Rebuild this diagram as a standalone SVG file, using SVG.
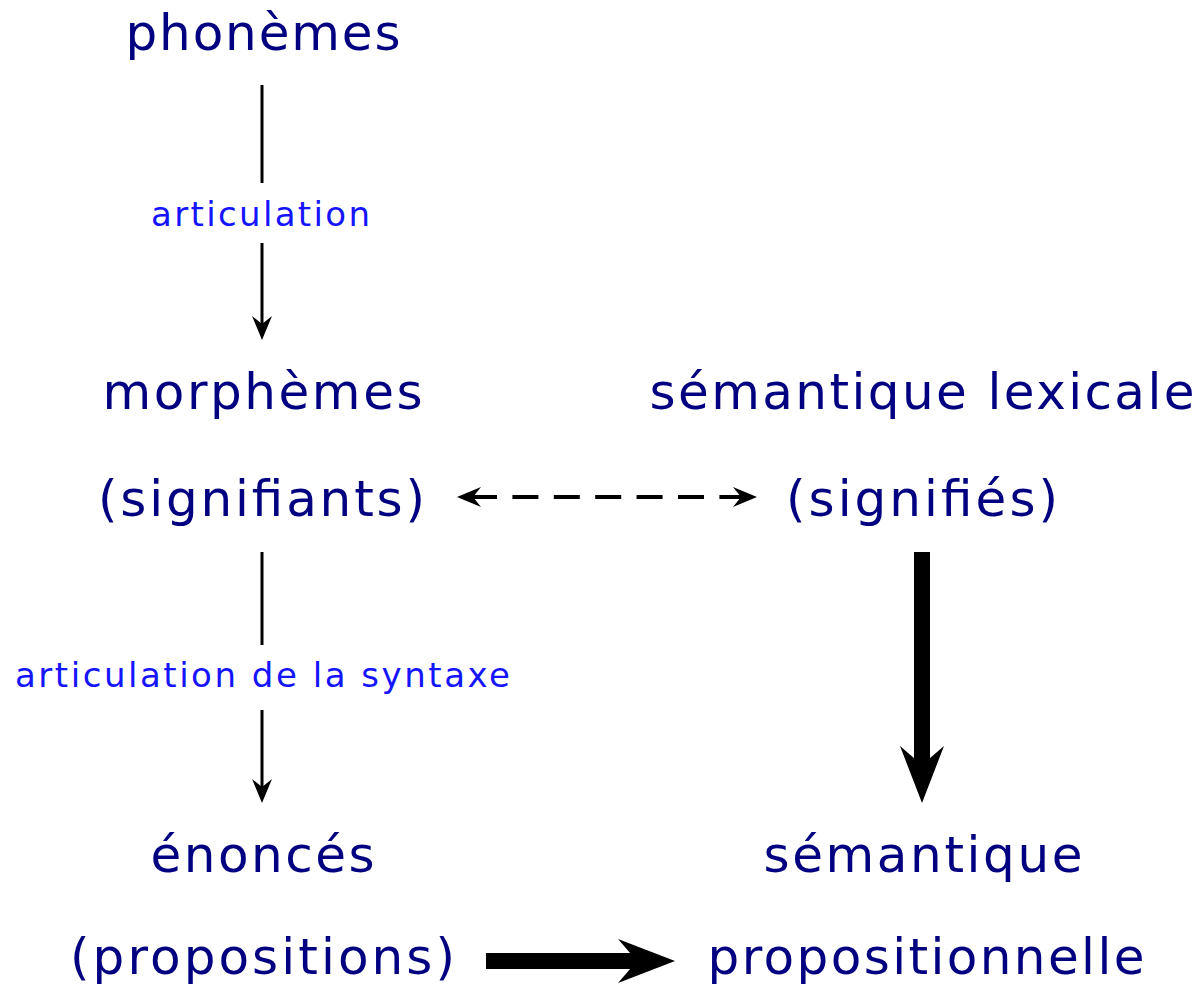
<svg xmlns="http://www.w3.org/2000/svg" xmlns:xlink="http://www.w3.org/1999/xlink" width="1199" height="985" viewBox="0 0 1199 985">
  <style>
    .term { font-family: "DejaVu Sans", "Liberation Sans", sans-serif; font-size: 50px; fill: #000080; text-anchor: middle; }
    .label { font-family: "DejaVu Sans", "Liberation Sans", sans-serif; font-size: 34px; fill: #1414ff; text-anchor: middle; }
    .thin { stroke: #000; stroke-width: 3; fill: none; }
    .dash { stroke: #000; stroke-width: 4; fill: none; stroke-dasharray: 26 15.4; }
    .head { fill: #000; }
  </style>
  <defs>
    <!-- arrowheads pointing along +x, tip at origin -->
    <path id="headS" d="M0,0 L-24,-10 L-16,0 L-24,10 Z"/>
    <path id="headL" d="M0,0 L-57,-22 L-38,0 L-57,22 Z"/>
  </defs>

  <rect width="1199" height="985" fill="#fff"/>

  <g id="connectors">
    <!-- phonèmes -> morphèmes -->
    <g id="edge-articulation">
      <line class="thin" x1="262" y1="85" x2="262" y2="183"/>
      <line class="thin" x1="262" y1="243" x2="262" y2="330"/>
      <use xlink:href="#headS" class="head" transform="translate(262,340) rotate(90)"/>
      <text class="label" x="260.5" y="226" textLength="219" lengthAdjust="spacing">articulation</text>
    </g>
    <!-- signifiants <-> signifiés -->
    <g id="edge-signe">
      <line class="dash" x1="471" y1="497" x2="744" y2="497"/>
      <use xlink:href="#headS" class="head" transform="translate(457,497) rotate(180)"/>
      <use xlink:href="#headS" class="head" transform="translate(757,497)"/>
    </g>
    <!-- morphèmes -> énoncés -->
    <g id="edge-syntaxe">
      <line class="thin" x1="262" y1="552" x2="262" y2="645"/>
      <line class="thin" x1="262" y1="710" x2="262" y2="793"/>
      <use xlink:href="#headS" class="head" transform="translate(262,803) rotate(90)"/>
      <text class="label" x="262.5" y="687" textLength="495" lengthAdjust="spacing">articulation de la syntaxe</text>
    </g>
    <!-- sémantique lexicale -> sémantique propositionnelle -->
    <g id="edge-lexicale">
      <rect x="914" y="552" width="16" height="215"/>
      <use xlink:href="#headL" class="head" transform="translate(922,803) rotate(90)"/>
    </g>
    <!-- énoncés -> sémantique propositionnelle -->
    <g id="edge-propositions">
      <rect x="486" y="953" width="152" height="16"/>
      <use xlink:href="#headL" class="head" transform="translate(675,961)"/>
    </g>
  </g>

  <g id="node-phonemes">
    <text class="term" x="263" y="50" textLength="275" lengthAdjust="spacing">phonèmes</text>
  </g>
  <g id="node-morphemes">
    <text class="term" x="262.5" y="409" textLength="320" lengthAdjust="spacing">morphèmes</text>
    <text class="term" x="261.5" y="516" textLength="327" lengthAdjust="spacing">(signifiants)</text>
  </g>
  <g id="node-semantique-lexicale">
    <text class="term" x="922" y="409" textLength="545" lengthAdjust="spacing">sémantique lexicale</text>
    <text class="term" x="922" y="516" textLength="272" lengthAdjust="spacing">(signifiés)</text>
  </g>
  <g id="node-enonces">
    <text class="term" x="262.5" y="872" textLength="224" lengthAdjust="spacing">énoncés</text>
    <text class="term" x="262.5" y="974" textLength="385" lengthAdjust="spacing">(propositions)</text>
  </g>
  <g id="node-semantique-propositionnelle">
    <text class="term" x="923" y="872" textLength="319" lengthAdjust="spacing">sémantique</text>
    <text class="term" x="926" y="974" textLength="437" lengthAdjust="spacing">propositionnelle</text>
  </g>
</svg>
